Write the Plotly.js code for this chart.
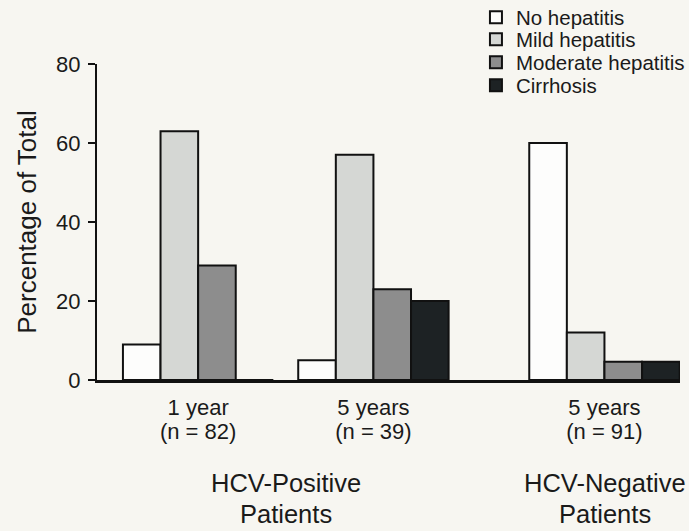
<!DOCTYPE html>
<html>
<head>
<meta charset="utf-8">
<script src="https://cdn.plot.ly/plotly-3.0.1.min.js"></script>
<style>
  html, body { margin: 0; padding: 0; background: #f7f6f1; }
  #chart { width: 689px; height: 531px; }
</style>
</head>
<body>
<div id="chart"></div>
<script>
// ---- data ----
const groupX = [1, 2, 3.318];
const seriesNames = ["No hepatitis", "Mild hepatitis", "Moderate hepatitis", "Cirrhosis"];
const noHepatitis = [9, 5, 60];
const mildHepatitis = [63, 57, 12];
const moderateHepatitis = [29, 23, 4.6];
const cirrhosis = [0, 20, 4.6];
const tickLabelsLine1 = ["1 year", "5 years", "5 years"];
const tickLabelsLine2 = ["(n = 82)", "(n = 39)", "(n = 91)"];
const groupTitleX = [1.50, 3.32];
const groupTitleLine1 = ["HCV-Positive", "HCV-Negative"];
const groupTitleLine2 = ["Patients", "Patients"];
const yTicks = [0, 20, 40, 60, 80];

const colors = ["#fdfdfc", "#d5d7d4", "#8d8d8d", "#1d2224"];
const values = [noHepatitis, mildHepatitis, moderateHepatitis, cirrhosis];
const legendIds = ["legend", "legend2", "legend3", "legend4"];
const legendRowY = [1.1472, 1.0775, 1.0048, 0.932];
const FONT = "Liberation Sans, Arial, Helvetica, sans-serif";
const TXT = "#1a1a1a";

const traces = values.map((v, i) => ({
  type: "bar",
  name: seriesNames[i],
  legend: legendIds[i],
  x: groupX,
  y: v,
  marker: { color: colors[i], line: { color: "#111", width: 2 } },
  hoverinfo: "skip"
}));
// invisible carrier trace so the second (overlaid) x axis with the "(n = ..)" labels is drawn
traces.push({
  type: "scatter", mode: "markers", x: groupX, y: [0, 0, 0],
  xaxis: "x2", yaxis: "y", marker: { opacity: 0 },
  showlegend: false, hoverinfo: "skip"
});

const layout = {
  width: 689, height: 531,
  paper_bgcolor: "#f7f6f1",
  plot_bgcolor: "#f7f6f1",
  margin: { l: 97, r: 9, t: 64, b: 151, pad: 0, autoexpand: false },
  barmode: "group",
  bargap: 0.142,
  bargroupgap: 0,
  showlegend: true,
  xaxis: {
    range: [0.423, 3.749],
    tickmode: "array",
    tickvals: groupX,
    ticktext: tickLabelsLine1,
    ticks: "",
    showgrid: false,
    zeroline: false,
    showline: true,
    linecolor: "#111",
    linewidth: 3,
    ticklabelstandoff: 6,
    tickfont: { family: FONT, size: 22, color: TXT }
  },
  xaxis2: {
    overlaying: "x",
    matches: "x",
    anchor: "y",
    side: "bottom",
    tickmode: "array",
    tickvals: groupX,
    ticktext: tickLabelsLine2,
    ticks: "",
    showgrid: false,
    zeroline: false,
    showline: false,
    ticklabelstandoff: 36,
    tickfont: { family: FONT, size: 22, color: TXT }
  },
  yaxis: {
    range: [0, 80],
    tickmode: "array",
    tickvals: yTicks,
    ticks: "outside",
    ticklen: 7,
    tickwidth: 2,
    tickcolor: "#111",
    showgrid: false,
    zeroline: false,
    showline: true,
    linecolor: "#111",
    linewidth: 2,
    ticklabelstandoff: 3,
    tickfont: { family: FONT, size: 22, color: TXT },
    title: { text: "Percentage of Total", font: { family: FONT, size: 26, color: TXT }, standoff: 12 }
  },
  annotations: []
};

legendIds.forEach((id, i) => {
  layout[id] = {
    x: 0.650, xanchor: "left", y: legendRowY[i], yanchor: "middle",
    bgcolor: "rgba(0,0,0,0)",
    font: { family: FONT, size: 20.5, color: TXT },
    itemclick: false
  };
});

groupTitleLine1.forEach((t, i) => {
  layout.annotations.push({
    text: t, x: groupTitleX[i], xref: "x", y: -0.326, yref: "paper",
    xanchor: "center", yanchor: "middle", showarrow: false,
    font: { family: FONT, size: 25.5, color: TXT }
  });
  layout.annotations.push({
    text: groupTitleLine2[i], x: groupTitleX[i], xref: "x", y: -0.424, yref: "paper",
    xanchor: "center", yanchor: "middle", showarrow: false,
    font: { family: FONT, size: 25.5, color: TXT }
  });
});

Plotly.newPlot("chart", traces, layout, { staticPlot: true, displayModeBar: false });
</script>
</body>
</html>
